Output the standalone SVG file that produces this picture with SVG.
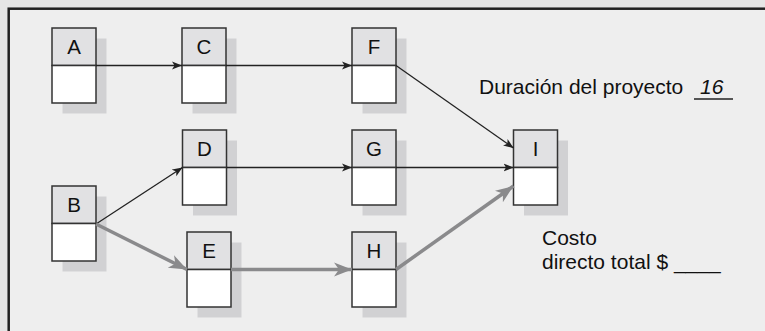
<svg xmlns="http://www.w3.org/2000/svg" width="765" height="331" viewBox="0 0 765 331">
<defs>
<style>
.shadow{fill:#d1d1d3}
.head{fill:#e1e1e3;stroke:#333;stroke-width:1.5}
.body{fill:#ffffff;stroke:#333;stroke-width:1.5}
.lbl{font-family:"Liberation Sans",Arial,sans-serif;font-size:20.5px;fill:#111;text-anchor:middle}
.txt{font-family:"Liberation Sans",Arial,sans-serif;font-size:21px;fill:#111}
.thin{stroke:#222;stroke-width:1.3;fill:none;marker-end:url(#arrowDark)}
.thick{stroke:#8a8a8c;stroke-width:3.5;fill:none;marker-end:url(#arrowGray)}
</style>
<marker id="arrowDark" viewBox="-10 -5 11 10" refX="0" refY="0" markerWidth="11" markerHeight="10" markerUnits="userSpaceOnUse" orient="auto">
<path d="M0,0 L-10,-4 L-7.5,0 L-10,4 Z" fill="#222"/>
</marker>
<marker id="arrowGray" viewBox="-18 -8 19 16" refX="0" refY="0" markerWidth="19" markerHeight="16" markerUnits="userSpaceOnUse" orient="auto">
<path d="M0,0 L-18,-7 L-13,0 L-18,7 Z" fill="#8a8a8c"/>
</marker>
</defs>
<rect x="0" y="0" width="765" height="331" fill="#e6e6e6"/>
<rect x="8.7" y="8.7" width="770" height="340" fill="#eeeeee" stroke="#222" stroke-width="2.5"/>

<g id="node-A">
<rect class="shadow" x="62.5" y="38.5" width="44" height="75"/>
<rect class="head" x="52" y="28" width="44" height="37.5"/>
<rect class="body" x="52" y="65.5" width="44" height="37.5"/>
<text class="lbl" x="74" y="54">A</text>
</g>
<g id="node-C">
<rect class="shadow" x="192.5" y="38.5" width="44" height="75"/>
<rect class="head" x="182" y="28" width="44" height="37.5"/>
<rect class="body" x="182" y="65.5" width="44" height="37.5"/>
<text class="lbl" x="204" y="54">C</text>
</g>
<g id="node-F">
<rect class="shadow" x="362.5" y="38.5" width="44" height="75"/>
<rect class="head" x="352" y="28" width="44" height="37.5"/>
<rect class="body" x="352" y="65.5" width="44" height="37.5"/>
<text class="lbl" x="374" y="54">F</text>
</g>
<g id="node-B">
<rect class="shadow" x="62.5" y="196.5" width="44" height="75"/>
<rect class="head" x="52" y="186" width="44" height="37.5"/>
<rect class="body" x="52" y="223.5" width="44" height="37.5"/>
<text class="lbl" x="74" y="212">B</text>
</g>
<g id="node-D">
<rect class="shadow" x="193" y="140.5" width="44" height="75"/>
<rect class="head" x="182.5" y="130" width="44" height="37.5"/>
<rect class="body" x="182.5" y="167.5" width="44" height="37.5"/>
<text class="lbl" x="204.5" y="156">D</text>
</g>
<g id="node-G">
<rect class="shadow" x="362.5" y="140.5" width="44" height="75"/>
<rect class="head" x="352" y="130" width="44" height="37.5"/>
<rect class="body" x="352" y="167.5" width="44" height="37.5"/>
<text class="lbl" x="374" y="156">G</text>
</g>
<g id="node-E">
<rect class="shadow" x="197.5" y="242.5" width="44" height="75"/>
<rect class="head" x="187" y="232" width="44" height="37.5"/>
<rect class="body" x="187" y="269.5" width="44" height="37.5"/>
<text class="lbl" x="209" y="258">E</text>
</g>
<g id="node-H">
<rect class="shadow" x="362.5" y="242.5" width="44" height="75"/>
<rect class="head" x="352" y="232" width="44" height="37.5"/>
<rect class="body" x="352" y="269.5" width="44" height="37.5"/>
<text class="lbl" x="374" y="258">H</text>
</g>
<g id="node-I">
<rect class="shadow" x="524" y="140.5" width="44" height="75"/>
<rect class="head" x="513.5" y="130" width="44" height="37.5"/>
<rect class="body" x="513.5" y="167.5" width="44" height="37.5"/>
<text class="lbl" x="535.5" y="156">I</text>
</g>

<g id="connectors">
<line class="thin" x1="96" y1="65.5" x2="182" y2="65.5"/>
<line class="thin" x1="226" y1="65.5" x2="352" y2="65.5"/>
<line class="thin" x1="396" y1="65.5" x2="513.5" y2="148"/>
<line class="thin" x1="96" y1="224" x2="182.5" y2="167.5"/>
<line class="thin" x1="226.5" y1="167.5" x2="352" y2="167.5"/>
<line class="thin" x1="396" y1="167.5" x2="513.5" y2="167.5"/>
<line class="thick" x1="96" y1="224" x2="187" y2="269.5"/>
<line class="thick" x1="231" y1="269.5" x2="352" y2="269.5"/>
<line class="thick" x1="396" y1="269.5" x2="513.5" y2="186"/>
</g>

<g id="labels">
<text class="txt" x="479" y="94">Duración del proyecto</text>
<text class="txt" x="700" y="94" font-style="italic">16</text>
<line x1="694" y1="99" x2="733" y2="99" stroke="#222" stroke-width="1.3"/>
<text class="txt" x="542" y="245">Costo</text>
<text class="txt" x="542" y="269">directo total $ ____</text>
</g>
</svg>
